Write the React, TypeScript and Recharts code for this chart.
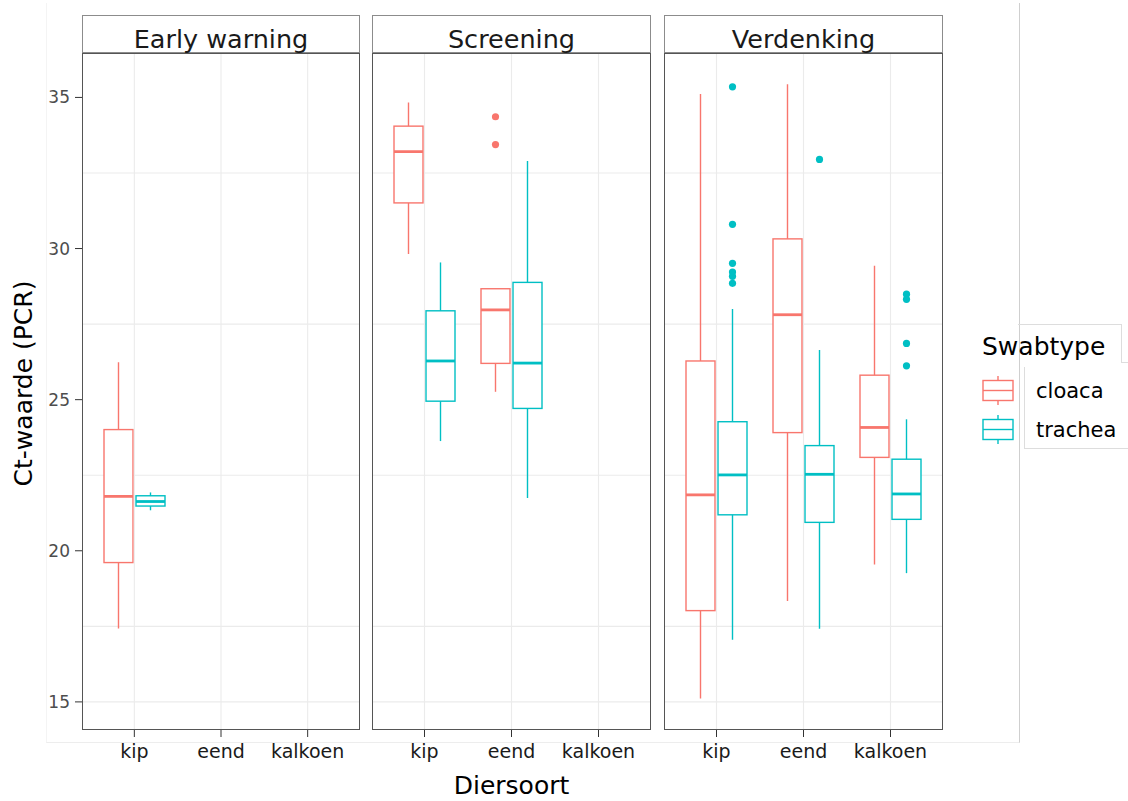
import React from 'react';
import { ComposedChart, Bar, XAxis, YAxis, CartesianGrid, ReferenceLine, Legend } from 'recharts';

const FONT = '"DejaVu Sans", Verdana, sans-serif';

const facets = ['Early warning', 'Screening', 'Verdenking'];
const categories = ['kip', 'eend', 'kalkoen'];
const swabtypes = ['cloaca', 'trachea'];
const swabColors = ['#F8766D', '#00BFC4'];
const yTicks = [15, 20, 25, 30, 35];
const yMinorTicks = [17.5, 22.5, 27.5, 32.5];
const yDomain = [14.07, 36.47];

// [lower whisker, Q1, median, Q3, upper whisker] for kip, eend, kalkoen
const earlyCloaca = [[17.43, 19.61, 21.8, 24.01, 26.24], null, null];
const earlyTrachea = [[21.34, 21.48, 21.63, 21.82, 21.93], null, null];
const screeningCloaca = [[29.82, 31.51, 33.21, 34.05, 34.83], [25.26, 26.2, 27.97, 28.67, 28.67], null];
const screeningTrachea = [[23.63, 24.95, 26.28, 27.94, 29.54], [21.75, 24.71, 26.21, 28.88, 32.9], null];
const verdenkingCloaca = [[15.11, 18.02, 21.85, 26.28, 35.11], [18.34, 23.91, 27.81, 30.32, 35.44], [19.55, 23.09, 24.08, 25.81, 29.43]];
const verdenkingTrachea = [[17.06, 21.19, 22.51, 24.27, 28.0], [17.42, 20.94, 22.53, 23.48, 26.64], [19.26, 21.04, 21.88, 23.03, 24.35]];

// outliers per diersoort
const noOutliers = [[], [], []];
const screeningCloacaOut = [[], [34.36, 33.44], []];
const verdenkingTracheaOut = [[35.35, 30.8, 29.51, 29.22, 29.08, 28.85], [32.95], [28.49, 28.32, 26.86, 26.12]];

const facetStats = [
  [earlyCloaca, earlyTrachea],
  [screeningCloaca, screeningTrachea],
  [verdenkingCloaca, verdenkingTrachea],
];
const facetOutliers = [
  [noOutliers, noOutliers],
  [screeningCloacaOut, noOutliers],
  [noOutliers, verdenkingTracheaOut],
];

// layout
const panelLeft = [82, 372, 664];
const panelWidth = [278, 279, 279];
const PLOT_TOP = 53;
const PLOT_H = 677;
const AXIS_H = 71;
const LEGEND_W = 1128 - 664 - 279;

const buildRows = (f: number) =>
  categories.map((cat, i) => {
    const row: any = { cat };
    swabtypes.forEach((s, k) => {
      row[s] = facetStats[f][k][i];
      row[s + 'Out'] = facetOutliers[f][k][i];
    });
    return row;
  });

const makeBoxShape = (k: number) => (props: any) => {
  const { x, y, width, height, payload } = props;
  const s = payload ? payload[swabtypes[k]] : null;
  if (!s || !Number.isFinite(y) || !Number.isFinite(height)) return <g />;
  const [lo, q1, med, q3, hi] = s;
  const top = Math.min(y, y + height);
  const span = Math.abs(height);
  const toPx = (v: number) => top + ((hi - v) / (hi - lo)) * span;
  const cx = x + width / 2;
  const color = swabColors[k];
  const out: number[] = payload[swabtypes[k] + 'Out'] || [];
  return (
    <g>
      <line x1={cx} x2={cx} y1={toPx(hi)} y2={toPx(lo)} stroke={color} strokeWidth={1.4} />
      <rect x={x} y={toPx(q3)} width={width} height={toPx(q1) - toPx(q3)} fill="#fff" stroke={color} strokeWidth={1.4} />
      <line x1={x} x2={x + width} y1={toPx(med)} y2={toPx(med)} stroke={color} strokeWidth={2.8} />
      {out.map((o, i) => (
        <circle key={i} cx={cx} cy={toPx(o)} r={3.6} fill={color} />
      ))}
    </g>
  );
};

const XTitle = (props: any) => {
  const vb = props.viewBox || { x: 0, y: PLOT_H, width: 279, height: AXIS_H };
  return (
    <text x={vb.x + vb.width / 2} y={vb.y + vb.height - 7} textAnchor="middle" fontSize={25} fontFamily={FONT} fill="#000">
      Diersoort
    </text>
  );
};

const YTitle = (props: any) => {
  const vb = props.viewBox || { x: 0, y: 0, width: 82, height: PLOT_H };
  const cy = vb.y + vb.height / 2 - 8;
  return (
    <text x={32} y={cy} transform={`rotate(-90, 32, ${cy})`} textAnchor="middle" fontSize={25} fontFamily={FONT} fill="#000">
      Ct-waarde (PCR)
    </text>
  );
};

const renderLegend = () => (
  <div style={{ fontFamily: FONT, color: '#000' }}>
    <div style={{ fontSize: 25, lineHeight: '30px', whiteSpace: 'nowrap' }}>Swabtype</div>
    <div style={{ marginTop: 9 }}>
      {swabtypes.map((name, i) => (
        <div key={name} style={{ display: 'flex', alignItems: 'center', height: 39 }}>
          <svg width={32} height={31} style={{ display: 'block' }}>
            <line x1={16} x2={16} y1={1} y2={30} stroke={swabColors[i]} strokeWidth={1.4} />
            <rect x={1} y={5.5} width={30} height={20} fill="#fff" stroke={swabColors[i]} strokeWidth={1.4} />
            <line x1={1} x2={31} y1={15.5} y2={15.5} stroke={swabColors[i]} strokeWidth={1.4} />
          </svg>
          <span style={{ marginLeft: 22, fontSize: 21 }}>{name}</span>
        </div>
      ))}
    </div>
  </div>
);

function Panel({ f }: { f: number }) {
  const first = f === 0;
  const last = f === facets.length - 1;
  const left = first ? 0 : panelLeft[f];
  const width = (first ? panelLeft[f] : 0) + panelWidth[f] + (last ? LEGEND_W : 0);
  return (
    <div style={{ position: 'absolute', left, top: PLOT_TOP }}>
      <ComposedChart
        width={width}
        height={PLOT_H + AXIS_H}
        data={buildRows(f)}
        margin={{ top: 0, right: last ? LEGEND_W : 0, bottom: 0, left: 0 }}
        barSize={29}
        barGap={3}
      >
        <CartesianGrid horizontalValues={[...yTicks, ...yMinorTicks]} vertical={false} stroke="#EBEBEB" strokeWidth={1.1} />
        {categories.map((c) => (
          <ReferenceLine key={c} x={c} stroke="#EBEBEB" strokeWidth={1.1} />
        ))}
        <XAxis
          dataKey="cat"
          type="category"
          padding={{ left: 9, right: 9 }}
          height={AXIS_H}
          axisLine={false}
          tickLine={{ stroke: '#333' }}
          tickSize={7}
          tickMargin={8}
          interval={0}
          tick={{ fill: '#1A1A1A', fontSize: 19, fontFamily: FONT }}
          label={f === 1 ? <XTitle /> : undefined}
        />
        <YAxis
          type="number"
          domain={yDomain}
          allowDataOverflow
          ticks={yTicks}
          hide={!first}
          width={first ? panelLeft[0] : 0}
          axisLine={false}
          tickLine={{ stroke: '#333' }}
          tickSize={7}
          tickMargin={5}
          tick={{ fill: '#4D4D4D', fontSize: 17, fontFamily: FONT }}
          label={first ? <YTitle /> : undefined}
        />
        {swabtypes.map((s, k) => (
          <Bar
            key={s}
            name={s}
            dataKey={(row: any) => (row[s] ? [row[s][0], row[s][4]] : null)}
            fill="#fff"
            stroke={swabColors[k]}
            shape={makeBoxShape(k)}
            isAnimationActive={false}
          />
        ))}
        {last && (
          <Legend
            content={renderLegend}
            layout="vertical"
            align="center"
            verticalAlign="middle"
            wrapperStyle={{ left: 318, top: 279, width: 150 }}
          />
        )}
      </ComposedChart>
    </div>
  );
}

export default function App() {
  return (
    <div style={{ position: 'absolute', left: 0, top: 0, width: 1128, height: 801, background: '#fff', fontFamily: FONT }}>
      {/* faint frame around the plot region */}
      <div style={{ position: 'absolute', left: 46, top: 3, width: 972, height: 739, borderRight: '1px solid #CFCFCF', borderBottom: '1px solid #EDEDED', borderLeft: '1px solid #F4F4F4' }} />
      <div style={{ position: 'absolute', left: 1018, top: 324, width: 103, height: 38, borderTop: '1px solid #DDD', borderRight: '1px solid #DDD' }} />
      <div style={{ position: 'absolute', left: 1121, top: 362, width: 7, borderTop: '1px solid #DDD' }} />
      <div style={{ position: 'absolute', left: 1024, top: 367, width: 104, height: 81, borderLeft: '1px solid #DDD', borderBottom: '1px solid #DDD' }} />
      {facets.map((_, f) => (
        <Panel key={f} f={f} />
      ))}
      {facets.map((t, f) => (
        <React.Fragment key={t}>
          <div
            style={{
              position: 'absolute',
              left: panelLeft[f],
              top: 15,
              width: panelWidth[f],
              height: 38,
              border: '1.5px solid #8C8C8C',
              boxSizing: 'border-box',
              background: '#fff',
              textAlign: 'center',
              fontSize: 25.5,
              lineHeight: '46px',
              color: '#1A1A1A',
              whiteSpace: 'nowrap',
            }}
          >
            {t}
          </div>
          <div
            style={{
              position: 'absolute',
              left: panelLeft[f],
              top: PLOT_TOP,
              width: panelWidth[f],
              height: PLOT_H,
              border: '1.5px solid #555',
              boxSizing: 'border-box',
              pointerEvents: 'none',
            }}
          />
        </React.Fragment>
      ))}
    </div>
  );
}
